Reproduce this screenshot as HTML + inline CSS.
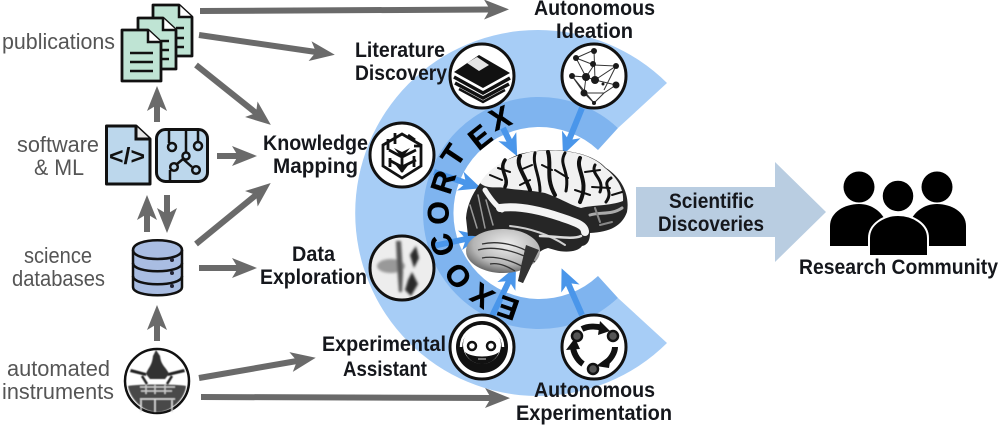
<!DOCTYPE html>
<html><head><meta charset="utf-8"><style>
html,body{margin:0;padding:0;background:#fff;width:1000px;height:426px;overflow:hidden}
svg{display:block;filter:blur(0.35px)}
text{font-family:"Liberation Sans",sans-serif}
.b{font-weight:700;font-size:21.5px;fill:#15171c}
.g{font-size:22px;fill:#555}
.L{font-weight:700;font-size:30px;fill:#000;text-anchor:middle;stroke:#000;stroke-width:.5}
.d{fill:#bfe4d4;stroke:#111;stroke-width:2.8;stroke-linejoin:round}
.ga{stroke:#6a6a6a;stroke-width:6;fill:none;marker-end:url(#gh)}
.ba{stroke:#4a96ea;stroke-width:6;fill:none;marker-end:url(#bh)}
</style></head><body>
<svg width="1000" height="426" viewBox="0 0 1000 426" xmlns="http://www.w3.org/2000/svg">
<defs>
<marker id="gh" markerUnits="userSpaceOnUse" markerWidth="40" markerHeight="30" refX="6" refY="11" orient="auto" overflow="visible"><path d="M0,1 L25,11 L0,21 L6,11z" fill="#6a6a6a"/></marker>
<marker id="bh" markerUnits="userSpaceOnUse" markerWidth="40" markerHeight="30" refX="6" refY="11" orient="auto" overflow="visible"><path d="M0,1 L22,11 L0,21 L6,11z" fill="#4a96ea"/></marker>
<filter id="bl"><feGaussianBlur stdDeviation="1.4"/></filter>
<filter id="bl2"><feGaussianBlur stdDeviation="0.5"/></filter>
<radialGradient id="cb" cx="0.55" cy="0.35" r="0.75"><stop offset="0" stop-color="#eeeeee"/><stop offset="0.6" stop-color="#b5b5b5"/><stop offset="1" stop-color="#444"/></radialGradient>
</defs>
<rect width="1000" height="426" fill="#fff"/>

<!-- rings: centre (540,213) -->
<path d="M667,83 A183,183 0 1 0 667,343 L618,298 A115,115 0 1 1 618,128 Z" fill="#a7cdf6"/>
<path d="M618,128 A116,116 0 1 0 618,298 L598,276 A86,86 0 1 1 598,150 Z" fill="#7fb4ef"/>

<!-- grey arrows -->
<path class="ga" d="M200,11 L490,9.500"/>
<path class="ga" d="M199,35 L316,52"/>
<path class="ga" d="M196,65 L256,113"/>
<path class="ga" d="M157,122 L157,105"/>
<path class="ga" d="M217,156 L238,156"/>
<path class="ga" d="M147,232 L147,214"/>
<path class="ga" d="M167,195 L167,214"/>
<path class="ga" d="M196,244 L256,195"/>
<path class="ga" d="M199,268 L238,268"/>
<path class="ga" d="M157,341 L157,324"/>
<path class="ga" d="M199,378 L297,361"/>
<path class="ga" d="M201,397 L491,398"/>

<!-- publications -->
<path class="d" d="M153,5 H179 L192,17 V56 H153Z"/>
<path d="M179,5 V17 H192" fill="#fff" stroke="#111" stroke-width="2.500"/>
<path d="M176,28 H184 M176,38 H184 M176,47 H184" stroke="#111" stroke-width="2.500"/>
<path class="d" d="M138,18 H163 L176,30 V69 H138Z"/>
<path d="M163,18 V30 H176" fill="#fff" stroke="#111" stroke-width="2.500"/>
<path d="M161,41 H169 M161,50 H169 M161,59 H169" stroke="#111" stroke-width="2.500"/>
<path class="d" d="M122,30 H148 L161,42 V81 H122Z"/>
<path d="M148,30 V42 H161" fill="#fff" stroke="#111" stroke-width="2.500"/>
<path d="M130,53 H153 M130,62 H153 M130,71 H153" stroke="#111" stroke-width="2.500"/>

<!-- software -->
<path d="M106.500,126 H136 L150,139 V184 H106.500Z" fill="#bcd7ec" stroke="#111" stroke-width="3" stroke-linejoin="round"/>
<path d="M136,126 V139 H150" fill="#e8e8e8" stroke="#111" stroke-width="3"/>
<text x="127" y="164" text-anchor="middle" font-size="23" font-weight="700" fill="#111" textLength="36" lengthAdjust="spacingAndGlyphs">&lt;/&gt;</text>
<rect x="156.500" y="129.500" width="51" height="52" rx="9" fill="#bcd7ec" stroke="#111" stroke-width="3"/>
<g fill="none" stroke="#111" stroke-width="2.500">
<path d="M169,130 V143"/><circle cx="172" cy="147" r="4"/>
<path d="M186,130 V153"/><circle cx="186" cy="156" r="3.500"/>
<path d="M198,130 V141"/><circle cx="198" cy="146" r="4"/>
<path d="M183,159 L177,164"/><circle cx="174" cy="167" r="3.800"/>
<path d="M170,170 V181"/><circle cx="196" cy="170" r="3.800"/><path d="M183,159 L192,167"/>
</g>

<!-- database -->
<path d="M133,250 C133,237 182,237 182,250 V287 C182,298 133,298 133,287Z" fill="#a9bde2" stroke="#111" stroke-width="2.500"/>
<path d="M133,250 C133,262 182,262 182,250 M133,263 C133,274 182,274 182,263 M133,276 C133,287 182,287 182,276" fill="none" stroke="#111" stroke-width="2.500"/>
<circle cx="172" cy="260" r="2" fill="#223"/><circle cx="172" cy="273" r="2" fill="#223"/><circle cx="172" cy="286" r="2" fill="#223"/>

<!-- instruments -->
<circle cx="157" cy="381" r="32" fill="#fff" stroke="#111" stroke-width="2.500"/>
<g filter="url(#bl2)">
<path d="M128,386 C135,384 180,384 186,386 C185,398 172,412 157,412 C142,412 130,398 128,386Z" fill="#4a4a4a"/>
<path d="M131,369 L146,373 L146,376 L130,372Z M184,369 L168,373 L168,376 L185,372Z" fill="#222"/>
<path d="M146,374 C148,368 152,366 153,356 L156,350 L160,356 C161,366 167,368 169,374 L165,379 H150Z" fill="#333"/>
<path d="M142,376 L147,384 M172,376 L167,384" stroke="#222" stroke-width="2.500"/>
<path d="M140,387 H175 M141,391 H172 M146,385 V394 M155,385 V394 M165,385 V394" stroke="#ccc" stroke-width="1.500" fill="none"/>
<path d="M141,400 V412 M172,400 V412 M140,399 H175 M155,399 V412" stroke="#ddd" stroke-width="1.500" fill="none"/>
</g>

<!-- big arrow -->
<path d="M636,187 H775 V162 L826,212 L775,262 V237 H636Z" fill="#b9cde1"/>

<!-- people -->
<g fill="#000">
<circle cx="859" cy="187" r="15.500"/><path d="M830,246 V226 C830,212 845,204 859,204 C872,204 882,212 886,222 V246Z"/>
<circle cx="937" cy="187" r="15.500"/><path d="M966,246 V226 C966,212 951,204 937,204 C924,204 914,212 910,222 V246Z"/>
<circle cx="898" cy="196" r="16" stroke="#fff" stroke-width="1.500"/>
<path d="M869,256 V238 C869,224 884,215 898,215 C913,215 928,224 928,238 V256Z" stroke="#fff" stroke-width="2"/>
</g>

<!-- blue arrows -->
<path class="ba" d="M503,128 L510,142"/>
<path class="ba" d="M582,108 L569,140"/>
<path class="ba" d="M434,172 L466,183"/>
<path class="ba" d="M433,246 L466,239"/>
<path class="ba" d="M492,316 L509,281"/>
<path class="ba" d="M582,315 L568,283"/>

<!-- brain -->
<path d="M466,218 C468,192 490,165 520,154 C550,146 590,150 606,168 C622,178 630,195 627,212 C622,226 610,232 590,233 C590,240 588,245 582,246 C578,252 565,253 555,250 L548,248 C540,250 534,256 532,264 L523,283 L518,281 L523,262 C510,245 485,235 468,236 Z" fill="#262626"/>
<path d="M480,183 C490,166 510,157 530,152 C560,148 590,152 605,168 C618,178 624,190 623,201 C610,206 592,205 581,208 C570,205 560,198 545,193 C530,190 515,190 505,188 C498,186 488,190 480,183Z" fill="#f1f1f1"/>
<g fill="none" stroke="#111" stroke-linecap="round">
<path stroke-width="3.500" d="M505,160 C498,170 510,178 505,187"/>
<path stroke-width="4" d="M520,156 C515,165 525,175 530,190"/>
<path stroke-width="3" d="M535,153 C532,165 540,175 540,191"/>
<path stroke-width="4" d="M548,152 C552,165 545,178 555,195"/>
<path stroke-width="3" d="M565,153 C558,165 570,170 566,191"/>
<path stroke-width="4" d="M580,158 C575,170 590,180 580,202"/>
<path stroke-width="3" d="M595,165 C590,175 605,178 600,192"/>
<path stroke-width="3" d="M611,178 C600,185 615,190 606,202"/>
<path stroke-width="2" d="M520,170 L532,165 M555,170 L568,178 M585,172 L600,170 M490,175 L502,180 M530,180 L520,185 M575,190 L590,195 M510,172 L498,168 M542,165 L552,170 M592,187 L610,188 M612,195 L622,192"/>
</g>
<g fill="none" stroke="#f4f4f4" stroke-linecap="round" stroke-linejoin="round">
<path stroke-width="8" d="M500,208 C520,205 545,212 560,217 C575,222 585,225 585,232"/>
<path stroke-width="5" d="M485,190 C490,198 495,205 502,210"/>
<path stroke-width="2" stroke="#cfcfcf" d="M510,226 C530,228 550,235 565,245"/>
<path stroke-width="2.500" stroke="#ddd" d="M540,236 C555,236 572,240 581,236"/>
<path stroke-width="3" stroke="#aaa" d="M590,215 C600,212 612,215 622,208"/>
<path stroke-width="2" stroke="#888" d="M600,225 L612,222 M595,208 L600,222"/>
<path stroke-width="1.500" stroke="#999" d="M470,205 L477,228 M478,195 L485,228 M486,200 L493,225"/>
</g>
<ellipse cx="503" cy="251" rx="37" ry="22" fill="url(#cb)"/>
<path d="M478,250 C495,245 520,252 535,262 M482,258 C497,255 515,262 525,268 M490,264 C500,262 510,268 515,271 M482,244 C500,240 520,246 532,254" stroke="#333" stroke-width="1.300" fill="none"/>
<path d="M526,245 L539,250 L532,264 L523,283 L518,281 L522,262Z" fill="#333"/>

<!-- EXOCORTEX -->
<g>
<text class="L" transform="translate(500,118) rotate(-22.800) translate(0,10.500)">X</text>
<text class="L" transform="translate(480,137) rotate(-38.300) translate(0,10.500)">E</text>
<text class="L" transform="translate(453,155) rotate(-56.300) translate(0,10.500)">T</text>
<text class="L" transform="translate(443,182) rotate(-72.300) translate(0,10.500)">R</text>
<text class="L" transform="translate(438,213) rotate(-90) translate(0,10.500)">O</text>
<text class="L" transform="translate(442,245) rotate(-108) translate(0,10.500)">C</text>
<text class="L" transform="translate(458,276) rotate(-127.500) translate(0,10.500)">O</text>
<text class="L" transform="translate(482,296) rotate(-145) translate(0,10.500)">X</text>
<text class="L" transform="translate(508,308) rotate(-161) translate(0,10.500)">E</text>
</g>

<!-- circle: literature -->
<circle cx="482" cy="76" r="32" fill="#fff" stroke="#111" stroke-width="3"/>
<path d="M454,72 L479,55 L510,73 L483,88Z" fill="#111"/>
<path d="M467,63 L477,57 L489,65 L479,71Z" fill="#e6e6e6"/>
<g fill="none" stroke="#111" stroke-width="3.500"><path d="M454,77 L483,93 L510,78"/><path d="M455,83 L483,98 L509,84"/><path d="M459,89 L483,102 L505,90" stroke-width="2.500"/></g>

<!-- circle: ideation -->
<circle cx="594" cy="76" r="32" fill="#fff" stroke="#111" stroke-width="3"/>
<g stroke="#333" stroke-width="1" fill="none"><path d="M576,58 L594,65 L616,66 L595,80 L616,85 L604,93 L584,93 L572,76 L586,77 L595,80 L594,50 L576,58 L586,77 L584,93 L594,103 L604,93 M594,65 L586,77 M616,66 L604,90 M572,76 L594,103"/></g>
<g fill="#1a1a1a"><circle cx="594" cy="51" r="3"/><circle cx="576" cy="58" r="3"/><circle cx="593" cy="64" r="3"/><circle cx="616" cy="66" r="3"/><circle cx="572" cy="76" r="3"/><circle cx="586" cy="77" r="4"/><circle cx="595" cy="80" r="4"/><circle cx="616" cy="85" r="3.500"/><circle cx="584" cy="93" r="3.500"/><circle cx="603" cy="84" r="1.500"/><circle cx="594" cy="103" r="2"/></g>

<!-- circle: knowledge -->
<circle cx="402" cy="155" r="32" fill="#fff" stroke="#111" stroke-width="3"/>
<g fill="none" stroke="#111" stroke-width="2.800">
<path d="M383,145 L402,134 L421,145 V166 L402,178 L383,166Z"/>
<path d="M389,150 L402,157 L416,150 M402,157 V172 M389,160 L402,167 L416,160"/>
<path d="M388,139 V150 M395,133 V144 M408,135 L415,140 M390,167 V158 M414,167 V156 M421,146 H414"/>
</g>
<path d="M394,148 L402,152 L410,148 L402,158Z M394,163 L402,167 L410,163 L402,173Z" fill="#111"/>

<!-- circle: data -->
<circle cx="402" cy="268" r="32" fill="#ededed" stroke="#111" stroke-width="3"/>
<g filter="url(#bl)" fill="#2a2a2a">
<ellipse cx="391" cy="266" rx="14" ry="7" fill="#999"/>
<path d="M396,241 L401,241 L403,272 L402,292 L399,292 L397,265Z" fill="#555"/>
<path d="M412,272 L418,284 L411,296 L405,290 L408,280Z"/>
<path d="M410,255 L416,246 L419,258 L414,268Z"/>
</g>

<!-- circle: experimental -->
<circle cx="482" cy="347" r="32" fill="#fff" stroke="#111" stroke-width="3"/>
<circle cx="482" cy="347" r="26" fill="#111"/>
<circle cx="482" cy="345" r="19" fill="#fff"/>
<path d="M461,347 A21,21 0 0 1 503,347" fill="none" stroke="#fff" stroke-width="2.500"/>
<path d="M465,352 A18,18 0 0 0 499,352 C492,358 472,358 465,352Z" fill="#111"/>
<circle cx="472" cy="346" r="4" fill="#fff" stroke="#111" stroke-width="2.500"/>
<circle cx="491" cy="346" r="4" fill="#fff" stroke="#111" stroke-width="2.500"/>
<path d="M478,359 H486" stroke="#999" stroke-width="1.500"/>

<!-- circle: autonomous exp -->
<circle cx="594" cy="347" r="32" fill="#fff" stroke="#111" stroke-width="3"/>
<g fill="none" stroke="#111" stroke-width="6">
<path d="M582,329 C588,326 596,326 603,328"/>
<path d="M615,347 C615,352 611,360 604,364"/>
<path d="M583,364 C577,360 573,352 573,346"/>
</g>
<path d="M600,321 L610,331 L598,335Z M596,366 L609,368 L611,355Z M566,350 L580,349 L575,338Z" fill="#111"/>
<g fill="#555" stroke="#111" stroke-width="2.500"><circle cx="577" cy="336" r="5"/><circle cx="613" cy="336" r="5"/><circle cx="593" cy="369" r="5"/></g>

<!-- left labels -->
<text class="g" x="2" y="49" textLength="113" lengthAdjust="spacingAndGlyphs">publications</text>
<text class="g" x="17" y="152" textLength="82" lengthAdjust="spacingAndGlyphs">software</text>
<text class="g" x="34" y="175" textLength="50" lengthAdjust="spacingAndGlyphs">&amp; ML</text>
<text class="g" x="24" y="263" textLength="68" lengthAdjust="spacingAndGlyphs">science</text>
<text class="g" x="12" y="286" textLength="93" lengthAdjust="spacingAndGlyphs">databases</text>
<text class="g" x="7" y="376" textLength="103" lengthAdjust="spacingAndGlyphs">automated</text>
<text class="g" x="2" y="399" textLength="112" lengthAdjust="spacingAndGlyphs">instruments</text>

<!-- bold labels -->
<text class="b" x="534" y="15" textLength="121" lengthAdjust="spacingAndGlyphs">Autonomous</text>
<text class="b" x="556" y="38" textLength="77" lengthAdjust="spacingAndGlyphs">Ideation</text>
<text class="b" x="355" y="57" textLength="90" lengthAdjust="spacingAndGlyphs">Literature</text>
<text class="b" x="355" y="80" textLength="92" lengthAdjust="spacingAndGlyphs">Discovery</text>
<text class="b" x="263" y="150" textLength="105" lengthAdjust="spacingAndGlyphs">Knowledge</text>
<text class="b" x="273" y="173" textLength="85" lengthAdjust="spacingAndGlyphs">Mapping</text>
<text class="b" x="292" y="261" textLength="43" lengthAdjust="spacingAndGlyphs">Data</text>
<text class="b" x="260" y="284" textLength="107" lengthAdjust="spacingAndGlyphs">Exploration</text>
<text class="b" x="322" y="351" textLength="124" lengthAdjust="spacingAndGlyphs">Experimental</text>
<text class="b" x="343" y="376" textLength="84" lengthAdjust="spacingAndGlyphs">Assistant</text>
<text class="b" x="534" y="397" textLength="121" lengthAdjust="spacingAndGlyphs">Autonomous</text>
<text class="b" x="516" y="420" textLength="156" lengthAdjust="spacingAndGlyphs">Experimentation</text>
<text class="b" x="669" y="208" textLength="85" lengthAdjust="spacingAndGlyphs">Scientific</text>
<text class="b" x="658" y="231" textLength="106" lengthAdjust="spacingAndGlyphs">Discoveries</text>
<text class="b" x="799" y="274" textLength="199" lengthAdjust="spacingAndGlyphs">Research Community</text>
</svg>
</body></html>
